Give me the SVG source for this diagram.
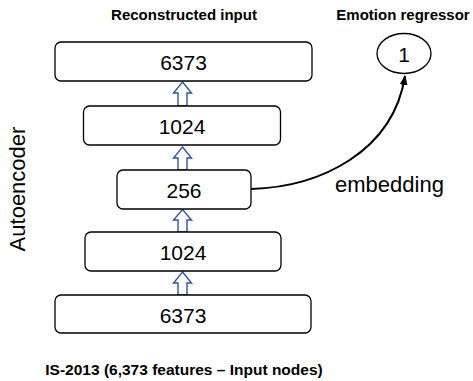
<svg xmlns="http://www.w3.org/2000/svg" width="473" height="381" viewBox="0 0 473 381">
<style>
.box{fill:#fff;stroke:#000;stroke-width:1.3}
.num{font-family:"Liberation Sans",Arial,sans-serif;font-size:21px;fill:#000;text-anchor:middle}
.title{font-family:"Liberation Sans",Arial,sans-serif;font-size:15px;font-weight:bold;fill:#000;text-anchor:middle}
.lbl{font-family:"Liberation Sans",Arial,sans-serif;font-size:22px;fill:#000}
.blk{fill:#fff;stroke:#2F5597;stroke-width:1.4;stroke-linejoin:miter}
.conn{fill:none;stroke:#000;stroke-width:2}
</style>
<defs>
<marker id="ah" viewBox="0 0 10 8" refX="9" refY="4" markerWidth="5" markerHeight="4" orient="auto" markerUnits="strokeWidth">
<path d="M0,0 L10,4 L0,8 Z" fill="#000"/>
</marker>
</defs>
<rect width="473" height="381" fill="#fff"/>
<text class="title" x="184" y="20">Reconstructed input</text>
<text class="title" x="403" y="20">Emotion regressor</text>
<text class="lbl" transform="translate(25,189) rotate(-90)" text-anchor="middle">Autoencoder</text>
<text class="lbl" x="335" y="192">embedding</text>
<text class="title" x="184" y="375" style="font-size:15.5px">IS-2013 (6,373 features – Input nodes)</text>

<g id="connectors">
<path class="blk" d="M182.5,82 L191.5,93 L187,93 L187,106 L178,106 L178,93 L173.5,93 Z"/>
<path class="blk" d="M182.5,147 L191.5,158 L187,158 L187,170 L178,170 L178,158 L173.5,158 Z"/>
<path class="blk" d="M182.5,209.5 L191.5,220 L187,220 L187,232 L178,232 L178,220 L173.5,220 Z"/>
<path class="blk" d="M182.5,272 L191.5,283 L187,283 L187,295 L178,295 L178,283 L173.5,283 Z"/>
<path class="conn" d="M251,189 C320,187 393,152 405,76" marker-end="url(#ah)"/>
</g>

<g id="node-output">
<rect class="box" x="55" y="42" width="257" height="39" rx="6"/>
<text class="num" x="183.5" y="70">6373</text>
</g>
<g id="node-dec1024">
<rect class="box" x="83.5" y="106" width="197" height="39" rx="6"/>
<text class="num" x="182" y="134">1024</text>
</g>
<g id="node-embed256">
<rect class="box" x="117" y="170" width="134" height="39" rx="6"/>
<text class="num" x="184" y="198">256</text>
</g>
<g id="node-enc1024">
<rect class="box" x="85" y="232" width="196" height="39" rx="6"/>
<text class="num" x="183" y="260">1024</text>
</g>
<g id="node-input">
<rect class="box" x="55" y="295" width="256" height="38" rx="6"/>
<text class="num" x="183" y="323">6373</text>
</g>
<g id="node-regressor">
<ellipse class="box" cx="404" cy="53.5" rx="27" ry="20"/>
<text class="num" x="404" y="61.5">1</text>
</g>
</svg>
